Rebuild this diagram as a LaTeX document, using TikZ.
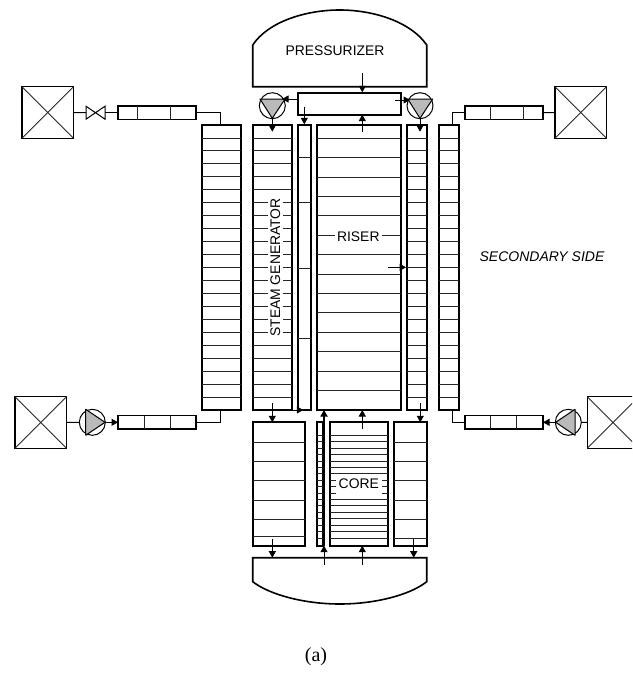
\documentclass[tikz,border=0pt]{standalone}
\usepackage{fontspec}
\setmainfont{Liberation Sans}
\newfontfamily\capfont{Liberation Serif}
\usetikzlibrary{arrows.meta,positioning,calc}

% row lines inside a box: node, first offset, step, last index
\newcommand{\rowsin}[4]{%
  \foreach \i in {0,...,#4}
    \draw[rowln] ($(#1.north west)+(0,#2+\i*#3)$) -- ($(#1.north east)+(0,#2+\i*#3)$);}
% heat exchanger cross
\newcommand{\crossin}[1]{%
  \draw[rowln] (#1.north west) -- (#1.south east);
  \draw[rowln] (#1.north east) -- (#1.south west);}
% dividers of a short pipe
\newcommand{\pipediv}[3]{%
  \draw[rowln] ($(#1.north west)+(#2,0)$) -- ($(#1.south west)+(#2,0)$);
  \draw[rowln] ($(#1.north west)+(#3,0)$) -- ($(#1.south west)+(#3,0)$);}

\begin{document}
\begin{tikzpicture}[
      x=1pt,y=-1pt,
      tall/.style={draw,line width=1.7pt,inner sep=0pt,outer sep=0pt,minimum height=285pt},
      low/.style={draw,line width=1.7pt,inner sep=0pt,outer sep=0pt,minimum height=123.4pt},
      pipebox/.style={draw,line width=1.7pt,inner sep=0pt,outer sep=0pt,minimum width=78pt,minimum height=13.6pt},
      hxbox/.style={draw,line width=1.1pt,inner sep=0pt,outer sep=0pt,minimum size=51.6pt},
      pumpc/.style={draw,circle,line width=1pt,inner sep=0pt,outer sep=0pt,minimum size=26pt},
      pumptri/.style={draw,line width=1pt,fill=black!27,line join=round},
      rowln/.style={line width=0.9pt,black!85},
      conn/.style={line width=1pt},
      vessel/.style={draw,line width=1.6pt},
      arr/.style={-{Triangle[length=6.5pt,width=7pt]},line width=1pt},
      lbl/.style={font=\fontsize{13.9}{15}\selectfont,inner sep=0.6pt},
    ]
    \clip (0,0) rectangle (632,677);

    % main columns
    \node[tall,minimum width=39pt,anchor=north west] (sgL) at (201.7,125) {};
    \node[tall,minimum width=38.4pt,right=12.6pt of sgL] (sgI) {};
    \node[tall,minimum width=13.3pt,right=6pt of sgI] (dcL) {};
    \node[tall,minimum width=83.7pt,right=6.3pt of dcL] (riser) {};
    \node[tall,minimum width=19.7pt,right=6.3pt of riser] (dcR) {};
    \node[tall,minimum width=19.7pt,right=12.3pt of dcR] (sgR) {};

    % lower columns
    \node[low,minimum width=52.3pt,anchor=north west] (lowL) at (252.7,422.3) {};
    \node[low,minimum width=6pt,right=12.3pt of lowL] (bypass) {};
    \node[low,minimum width=58pt,right=7pt of bypass] (core) {};
    \node[low,minimum width=32.4pt,right=6pt of core] (lowR) {};

    % rows
    \rowsin{sgL}{12.95}{12.95}{20}
    \rowsin{sgI}{12.95}{12.95}{20}
    \rowsin{dcR}{12.95}{12.95}{20}
    \rowsin{sgR}{12.95}{12.95}{20}
    \rowsin{riser}{13.3}{19.4}{13}
    \rowsin{core}{13}{6.42}{16}
    \rowsin{bypass}{13}{6.42}{16}
    \foreach \r in {32.7,77,143,213}
      \draw[rowln] ($(dcL.north west)+(0,\r)$) -- ($(dcL.north east)+(0,\r)$);
    \foreach \r in {20,39,58.4,77.7,97,114.4}
      \draw[rowln] ($(lowL.north west)+(0,\r)$) -- ($(lowL.north east)+(0,\r)$);
    \foreach \r in {20,39,58.4,77.7,97,116.4}
      \draw[rowln] ($(lowR.north west)+(0,\r)$) -- ($(lowR.north east)+(0,\r)$);

    % vessels
    \draw[vessel] (252.7,86.7) -- (252.7,45) .. controls (268,22) and (305,10) .. (339.7,10)
          .. controls (374,10) and (411,22) .. (426.7,45) -- (426.7,86.7) -- cycle;
    \draw[vessel] (252.7,557.7) -- (426.7,557.7) -- (426.7,581.7) .. controls (410,595) and (375,604) .. (339.7,604)
          .. controls (305,604) and (270,595) .. (252.7,581.7) -- cycle;
    \node[draw,line width=1.7pt,inner sep=0pt,outer sep=0pt,minimum width=103pt,minimum height=22.3pt,
          anchor=north west] (header) at (298.3,92.7) {};

    % secondary side boxes
    \node[hxbox,anchor=north west] (hxUL) at (22,86.7) {};
    \node[hxbox,anchor=north west] (hxUR) at (555,86.7) {};
    \node[hxbox,anchor=north west] (hxLL) at (15,396.7) {};
    \node[hxbox,anchor=north west] (hxLR) at (587.3,396.7) {};
    \crossin{hxUL}
    \crossin{hxUR}
    \crossin{hxLL}
    \crossin{hxLR}
    \node[pipebox,anchor=west] (pipeUL) at (118,112.7) {};
    \node[pipebox,anchor=west] (pipeUR) at (465,112.7) {};
    \node[pipebox,anchor=west] (pipeLL) at (118,422.3) {};
    \node[pipebox,anchor=west] (pipeLR) at (465,422.3) {};
    \pipediv{pipeUL}{19.7}{52}
    \pipediv{pipeUR}{25.7}{58.3}
    \pipediv{pipeLL}{26}{52}
    \pipediv{pipeLR}{25.7}{51.7}

    % valve
    \node[inner sep=0pt,outer sep=0pt,minimum width=19pt,minimum height=13pt] (valve) at (95.5,112.7) {};
    \draw[conn] (valve.north west) -- (valve.south east) -- (valve.north east) -- (valve.south west) -- cycle;

    % pumps
    \node[pumpc] (pumpUL) at (272.3,105.7) {};
    \node[pumpc] (pumpUR) at (420,105.7) {};
    \node[pumpc] (pumpLL) at (92.3,422.3) {};
    \node[pumpc] (pumpLR) at (568.3,422.3) {};
    \draw[pumptri] (260,99) -- (285,99) -- (272.3,118.3) -- cycle;
    \draw[pumptri] (407.7,99) -- (432.7,99) -- (420,118.3) -- cycle;
    \draw[pumptri] (85.7,409.3) -- (105,422.3) -- (85.7,435.3) -- cycle;
    \draw[pumptri] (575,409.3) -- (555.7,422.3) -- (575,435.3) -- cycle;

    % free ends
    \coordinate (tapUL) at (220.7,125);
    \coordinate (tapLL) at (220.7,410);
    \coordinate (tapUR) at (452.3,125);
    \coordinate (tapLR) at (452.3,410);

    % secondary connectors
    \draw[conn] (hxUL.east) -- (valve.west);
    \draw[conn] (valve.east) -- (pipeUL.west);
    \draw[conn] (pipeUL.east) -| (tapUL);
    \draw[conn] (pipeUR.west) -| (tapUR);
    \draw[conn] (pipeUR.east) -- (hxUR.west);
    \draw[conn] (hxLL.east) -- (pumpLL.west);
    \draw[conn] (pipeLL.east) -| (tapLL);
    \draw[conn] (pipeLR.west) -| (tapLR);
    \draw[conn] (pumpLR.east) -- (hxLR.west);
    \draw[arr] (pumpLL.east) -- (pipeLL.west);
    \draw[arr] (555.7,422.3) -- (pipeLR.east);

    % primary loop arrows
    \draw[arr] (362.3,73.3) -- (362.3,92.3);
    \draw[arr] (362.3,131.7) -- (362.3,114.6);
    \draw[arr] (298.3,99) -- (282,99);
    \draw[arr] (395,100) -- (410,100);
    \draw[arr] (272.3,118.3) -- (272.3,131.7);
    \draw[arr] (420,118.3) -- (420,131.7);
    \draw[arr] (304.3,106.7) -- (304.3,124.3);
    \draw[arr] (388.3,267.3) -- (406,267.3);
    \draw[arr] (291.7,410) -- (303.3,410);
    \draw[arr] (272.3,403.3) -- (272.3,422.3);
    \draw[arr] (420.3,403.3) -- (420.3,422.3);
    \draw[arr] (362.3,429) -- (362.3,410);
    \draw[arr] (272.3,539) -- (272.3,557.7);
    \draw[arr] (413.7,539) -- (413.7,557.7);
    \draw[arr] (362.3,565) -- (362.3,545.7);
    \draw[arr] (324,565) -- (324,545.7);
    \draw[arr,line width=1.8pt] (324,545.7) -- (324,410);

    % labels
    \node[lbl] (prz) at (335,50.5) {PRESSURIZER};
    \node[lbl,fill=white,rotate=90,inner ysep=2.4pt,inner xsep=3pt] (steam) at (275.3,267.5) {STEAM GENERATOR};
    \node[lbl,fill=white,inner xsep=2pt] (riserlbl) at (358.3,237) {RISER};
    \node[lbl,fill=white,minimum width=45.7pt,minimum height=19pt] (corelbl) at (358.8,484) {CORE};
    \node[lbl,font=\fontsize{14}{15}\selectfont\itshape] (second) at (542,257) {SECONDARY SIDE};
    \node[inner sep=0pt,font=\fontsize{20}{22}\selectfont\capfont] (caption) at (316,657) {(a)};
  \end{tikzpicture}
\end{document}
